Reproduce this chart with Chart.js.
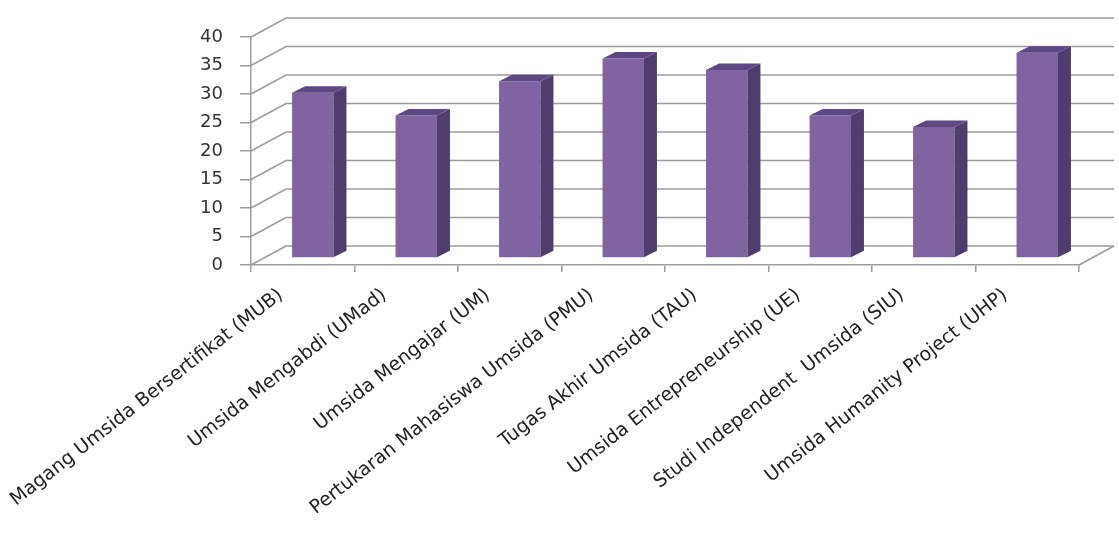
<!DOCTYPE html>
<html>
<head>
<meta charset="utf-8">
<script src="https://cdn.jsdelivr.net/npm/chart.js@4.4.1/dist/chart.umd.min.js"></script>
<style>
  html, body { margin: 0; padding: 0; background: #fff; }
  #wrap { width: 1119px; height: 540px; }
</style>
</head>
<body>
<div id="wrap"><canvas id="barChart" width="1119" height="540"></canvas></div>
<script>
const programs = [
  'Magang Umsida Bersertifikat (MUB)',
  'Umsida Mengabdi (UMad)',
  'Umsida Mengajar (UM)',
  'Pertukaran Mahasiswa Umsida (PMU)',
  'Tugas Akhir Umsida (TAU)',
  'Umsida Entrepreneurship (UE)',
  'Studi Independent  Umsida (SIU)',
  'Umsida Humanity Project (UHP)'
];
const counts = [29, 25, 31, 35, 33, 25, 23, 36];
const yTicks = [0, 5, 10, 15, 20, 25, 30, 35, 40];

// fake 3d: wall depth and bar depth
const wallDx = 35, wallDy = 19;
const barShiftX = 10, barShiftY = 7;
const barDx = 13, barDy = 6.5;
const gridColor = '#9c9c9c';

const fake3d = {
  id: 'fake3d',
  beforeDatasetsDraw(chart) {
    const ctx = chart.ctx;
    const a = chart.chartArea;
    const y = chart.scales.y;
    ctx.save();
    ctx.strokeStyle = gridColor;
    ctx.lineWidth = 1.5;
    yTicks.forEach(function(v) {
      const py = y.getPixelForValue(v);
      ctx.beginPath();
      ctx.moveTo(a.left, py);
      ctx.lineTo(a.left + wallDx, py - wallDy);
      ctx.lineTo(a.right + wallDx, py - wallDy);
      ctx.stroke();
    });
    ctx.beginPath();
    ctx.moveTo(a.right, a.bottom);
    ctx.lineTo(a.right + wallDx, a.bottom - wallDy);
    ctx.stroke();
    ctx.restore();

    ctx.save();
    ctx.translate(barShiftX, -barShiftY);
  },
  afterDatasetsDraw(chart) {
    const ctx = chart.ctx;
    const meta = chart.getDatasetMeta(0);
    meta.data.forEach(function(bar) {
      const p = bar.getProps(['x', 'y', 'base', 'width'], true);
      const l = p.x - p.width / 2, r = p.x + p.width / 2;
      ctx.fillStyle = '#4f3d6e';
      ctx.beginPath();
      ctx.moveTo(r, p.y);
      ctx.lineTo(r + barDx, p.y - barDy);
      ctx.lineTo(r + barDx, p.base - barDy);
      ctx.lineTo(r, p.base);
      ctx.closePath();
      ctx.fill();
      ctx.fillStyle = '#5d4884';
      ctx.beginPath();
      ctx.moveTo(l, p.y);
      ctx.lineTo(l + barDx, p.y - barDy);
      ctx.lineTo(r + barDx, p.y - barDy);
      ctx.lineTo(r, p.y);
      ctx.closePath();
      ctx.fill();
    });
    ctx.restore();
  }
};

const ctx = document.getElementById('barChart').getContext('2d');
const chart = new Chart(ctx, {
  type: 'bar',
  data: {
    labels: programs,
    datasets: [{
      data: counts,
      backgroundColor: '#8064a2',
      borderWidth: 0,
      categoryPercentage: 1,
      barPercentage: 0.4
    }]
  },
  options: {
    responsive: false,
    animation: false,
    layout: { padding: { left: 0, right: 40, top: 37, bottom: 0 } },
    plugins: { legend: { display: false }, tooltip: { enabled: false } },
    scales: {
      x: {
        afterFit: function(s) { s.height = 275; },
        grid: { offset: true, drawOnChartArea: false, tickLength: 7, color: gridColor, lineWidth: 1.5 },
        border: { color: gridColor, width: 1.5 },
        ticks: {
          autoSkip: false, minRotation: 38, maxRotation: 38,
          padding: 12, labelOffset: -22,
          color: '#222', font: { family: 'DejaVu Sans', size: 19 }
        }
      },
      y: {
        min: 0, max: 40,
        afterFit: function(s) { s.width = 251; },
        grid: { drawOnChartArea: false, tickLength: 11, color: gridColor, lineWidth: 1.5 },
        border: { color: gridColor, width: 1.5 },
        ticks: {
          stepSize: 5, padding: 17,
          color: '#333', font: { family: 'DejaVu Sans', size: 18 }
        }
      }
    }
  },
  plugins: [fake3d]
});
</script>
</body>
</html>
